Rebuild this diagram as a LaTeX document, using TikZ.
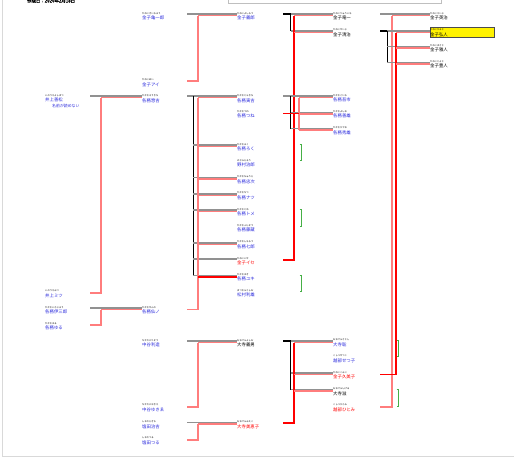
\documentclass[tikz,border=0pt]{standalone}
\usepackage{fontspec}
\newfontfamily\cjk{Noto Sans CJK JP}
\newfontfamily\cjkb[FakeBold=2]{Noto Sans CJK JP}
\definecolor{nblue}{RGB}{40,40,220}
\definecolor{lgray}{RGB}{145,145,145}
\definecolor{pinkr}{RGB}{255,125,125}
\definecolor{gbr}{RGB}{70,175,70}
\tikzset{
 fur/.style={anchor=west,inner sep=0pt,font=\cjk\fontsize{2.3}{2.6}\selectfont},
 nm/.style={anchor=west,inner sep=0pt,font=\cjk\fontsize{4.4}{5}\selectfont},
 gl/.style={draw=lgray,line width=1.1pt},
 bl/.style={draw=black,line width=0.8pt},
 bk/.style={draw=black,line width=1.3pt},
 pl/.style={draw=pinkr,line width=1.05pt},
 rl/.style={draw=red,line width=1.1pt},
 gb/.style={draw=gbr,line width=0.7pt},
}
\newcommand\psn[6]{\node[fur] (#1f) at (#2,#3-1) {#4};\node[nm,text=#6] (#1) at (#2,#3+3.4) {#5};}
\newcommand\brn[4]{\coordinate (tmpb) at (#2,#3);\draw[#1] (tmpb) -- (tmpb -| #4f.west);}
\newcommand\gbk[3]{\draw[gb] (#1-1.5,#2) -- (#1,#2) -- (#1,#3) -- (#1-1.5,#3);}
\begin{document}
\begin{tikzpicture}[x=1pt,y=-1pt]
\useasboundingbox (0,0) rectangle (514,458);
% page frame and header
\draw[black!15,line width=0.5pt] (2,-2) -- (2,456) -- (516,456);
\draw[black!25,fill=white,line width=0.5pt] (228,-2) rectangle (441,3);
\node[anchor=west,inner sep=0pt,font=\cjkb\fontsize{4.4}{5}\selectfont] (title) at (27,0.8) {作成日：2020年2月18日};
% highlight box
\node[draw=black!70,fill=yellow,line width=0.6pt,minimum width=64pt,minimum height=10pt,anchor=north west,inner sep=0pt] (hl) at (430,27) {};
% column 1
\psn{A1}{45}{96.5}{いのうえよしまつ}{井上善松}{nblue}
\node[anchor=west,inner sep=0pt,font=\cjk\fontsize{3.9}{4.5}\selectfont,text=nblue] (note) at (52,106) {名前が読めない};
\psn{A2}{45}{292}{いのうえみつ}{井上ミツ}{nblue}
\psn{A3}{45}{308.5}{かかむいさぶろう}{各務伊三郎}{nblue}
\psn{A4}{45}{324.5}{かかむゆる}{各務ゆる}{nblue}
% column 2
\psn{B1}{142}{14.3}{かねこきいちろう}{金子亀一郎}{nblue}
\psn{B2}{142}{81}{かねこあい}{金子アイ}{nblue}
\psn{B3}{142}{97}{かかむそうきち}{各務惣吉}{nblue}
\psn{B4}{142}{308.5}{かかむせんの}{各務仙ノ}{nblue}
\psn{B5}{142}{341.5}{なかたにりぞう}{中谷利造}{nblue}
\psn{B6}{142}{406}{なかたにゆきえ}{中谷ゆきゑ}{nblue}
\psn{B7}{142}{423}{しおたじきち}{塩田治吉}{nblue}
\psn{B8}{142}{439}{しおたつる}{塩田つる}{nblue}
% column 3
\psn{C1}{237}{14.3}{かねこよしろう}{金子義郎}{nblue}
\psn{C2}{237}{97}{かかむとらきち}{各務寅吉}{nblue}
\psn{C3}{237}{112.5}{かかむつね}{各務つね}{nblue}
\psn{C4}{237}{145.5}{かかむろく}{各務ろく}{nblue}
\psn{C5}{237}{161.5}{のむらじろう}{野村治郎}{nblue}
\psn{C6}{237}{178}{かかむちゅうじ}{各務忠次}{nblue}
\psn{C7}{237}{194}{かかむなつ}{各務ナツ}{nblue}
\psn{C8}{237}{210.5}{かかむとめ}{各務トメ}{nblue}
\psn{C9}{237}{226.5}{かかむふじぞう}{各務藤蔵}{nblue}
\psn{C10}{237}{243}{かかむしちろう}{各務七郎}{nblue}
\psn{C11}{237}{259.5}{かねこいせ}{金子イセ}{red}
\psn{C12}{237}{275.5}{かかむゆき}{各務ユキ}{nblue}
\psn{C13}{237}{291.5}{まつむらとしお}{松村利雄}{nblue}
\psn{C14}{237}{341.5}{おおでらよしお}{大寺義男}{black}
\psn{C15}{237}{423}{おおでらみえこ}{大寺美恵子}{red}
% column 4
\psn{D1}{333}{14.3}{かねこりゅういち}{金子竜一}{black}
\psn{D2}{333}{31}{かねこせいじ}{金子清治}{black}
\psn{D3}{333}{96.5}{かかむごいち}{各務吾市}{nblue}
\psn{D4}{333}{112.5}{かかむよしお}{各務善雄}{nblue}
\psn{D5}{333}{129}{かかむひでお}{各務秀雄}{nblue}
\psn{D6}{333}{341}{おおでらさとし}{大寺聡}{nblue}
\psn{D7}{333}{357}{こしべせつこ}{越部せつ子}{nblue}
\psn{D8}{333}{373.5}{かねこくみこ}{金子久美子}{red}
\psn{D9}{333}{390}{おおでらしげる}{大寺滋}{black}
\psn{D10}{333}{406}{こしべひとみ}{越部ひとみ}{red}
% column 5
\psn{E1}{430}{14.3}{かねこえいじ}{金子英治}{black}
\psn{E2}{430}{31}{かねこひろと}{金子弘人}{black}
\psn{E3}{430}{46.5}{かねこまさと}{金子雅人}{black}
\psn{E4}{430}{62.5}{かねことよと}{金子豊人}{black}
% family 1
\brn{gl}{90}{96}{B3}
\draw[pl] (90,293) -| (101,97.5);
\brn{pl}{101}{97.5}{B3}
% family 2
\brn{gl}{90}{308}{B4}
\draw[pl] (90,325) -| (101,309.5);
\brn{pl}{101}{309.5}{B4}
% family 3
\brn{gl}{187}{14}{C1}
\draw[pl] (187,81) -| (198,15.5);
\brn{pl}{198}{15.5}{C1}
% family 4
\brn{gl}{187}{96}{C2}
\draw[bl] (193,96) -- (193,275.5);
\brn{gl}{193}{145}{C4}
\brn{gl}{193}{177.5}{C6}
\brn{gl}{193}{194}{C7}
\brn{gl}{193}{210}{C8}
\brn{gl}{193}{243}{C10}
\brn{gl}{193}{259}{C11}
\brn{gl}{193}{275.5}{C12}
\draw[pl] (187,309.5) -| (198,97.5);
\brn{pl}{198}{97.5}{C2}
\brn{pl}{198}{146.5}{C4}
\brn{pl}{198}{179}{C6}
\brn{pl}{198}{195.5}{C7}
\brn{pl}{198}{211.5}{C8}
\brn{pl}{198}{244.5}{C10}
\brn{rl}{198}{277}{C12}
% family 10, 11
\brn{gl}{187}{341}{C14}
\draw[pl] (187,407) -| (198,342.5);
\brn{pl}{198}{342.5}{C14}
\brn{gl}{187}{422.5}{C15}
\draw[pl] (187,440) -| (198,424);
\brn{pl}{198}{424}{C15}
% family 5
\brn{gl}{283}{14}{D1}
\draw[bk] (283,14) -- (290.5,14);
\draw[bl] (290.5,14) -- (290.5,31);
\brn{gl}{290.5}{31}{D2}
\draw[rl] (283,260) -| (294,15.5);
\brn{pl}{294}{15.5}{D1}
\brn{pl}{294}{32.5}{D2}
% family 6
\brn{gl}{283}{96}{D3}
\draw[bl] (290.5,96) -- (290.5,128.5);
\brn{gl}{290.5}{112.5}{D4}
\brn{gl}{290.5}{128.5}{D5}
\draw[pl] (299,97.5) -- (299,130);
\brn{pl}{299}{97.5}{D3}
\brn{pl}{299}{114}{D4}
\brn{pl}{299}{130}{D5}
\draw[rl,line width=1.3pt] (283,113.5) -- (299,113.5);
% family 7
\brn{gl}{283}{341}{D6}
\draw[bk] (283,341) -- (290.5,341);
\draw[bl] (290.5,341) -- (290.5,389.5);
\brn{gl}{290.5}{373}{D8}
\brn{gl}{290.5}{389.5}{D9}
\draw[rl] (283,423) -| (294,342.5);
\brn{pl}{294}{342.5}{D6}
\brn{pl}{294}{374.5}{D8}
\brn{pl}{294}{391}{D9}
% family 8
\brn{gl}{380}{14}{E1}
\draw[pl] (380,407) -| (392,15.5);
\brn{pl}{392}{15.5}{E1}
% family 9
\brn{gl}{380}{31}{E2}
\draw[bk] (380,31) -- (387,31);
\draw[bl] (387,31) -- (387,62.5);
\brn{gl}{387}{46.5}{E3}
\brn{gl}{387}{62.5}{E4}
\draw[rl] (380,374.5) -| (396,32.5);
\brn{pl}{396}{32.5}{E2}
\brn{pl}{396}{48}{E3}
\brn{pl}{396}{64}{E4}
% couple brackets
\gbk{301}{144}{160.5}
\gbk{301}{209}{226}
\gbk{301}{275}{291}
\gbk{398}{340}{356}
\gbk{398}{389}{406}
\end{tikzpicture}
\end{document}
